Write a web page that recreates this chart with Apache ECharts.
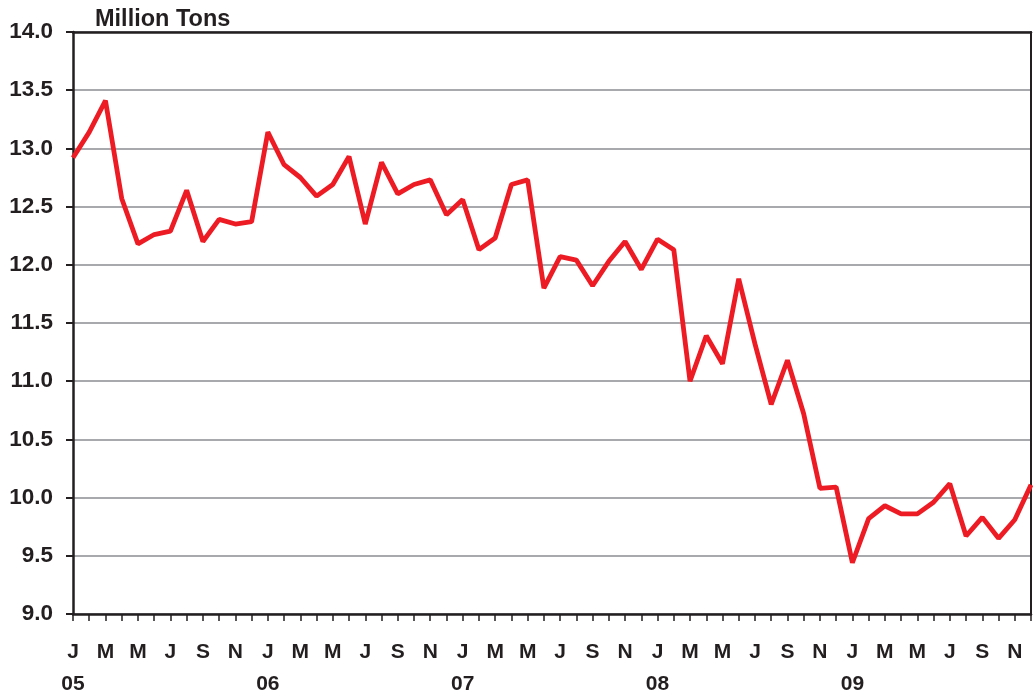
<!DOCTYPE html>
<html lang="en">
<head>
    <meta charset="UTF-8">
    <title>Million Tons</title>
    <style>
        body { margin: 0; background: #fff; }
        #main { width: 1033px; height: 694px; }
    </style>
</head>
<body>
    <div id="main"></div>
    <script src="https://cdn.jsdelivr.net/npm/echarts@6/dist/echarts.min.js"></script>
    <script>
        // monthly data Jan 2005 - Dec 2009
        var monthLetters = ['J', 'F', 'M', 'A', 'M', 'J', 'J', 'A', 'S', 'O', 'N', 'D'];
        var years = ['05', '06', '07', '08', '09'];
        var values = [
            12.92, 13.14, 13.41, 12.57, 12.18, 12.26, 12.29, 12.64, 12.20, 12.39, 12.35, 12.37,
            13.14, 12.86, 12.75, 12.59, 12.69, 12.93, 12.35, 12.88, 12.61, 12.69, 12.73, 12.43,
            12.56, 12.13, 12.23, 12.69, 12.73, 11.80, 12.07, 12.04, 11.82, 12.03, 12.20, 11.96,
            12.22, 12.13, 11.00, 11.39, 11.15, 11.88, 11.32, 10.80, 11.18, 10.72, 10.08, 10.09,
            9.44, 9.82, 9.93, 9.86, 9.86, 9.96, 10.12, 9.67, 9.83, 9.65, 9.81, 10.11
        ];
        var yTicks = { min: 9, max: 14, interval: 0.5 };

        var categories = [];
        years.forEach(function (y) {
            monthLetters.forEach(function (m) {
                categories.push(m + '|' + y);
            });
        });

        var txt = '#231f20';
        var font = 'Liberation Sans';

        var myChart = echarts.init(document.getElementById('main'));
        var option = {
            animation: false,
            title: {
                text: 'Million Tons',
                left: 90,
                top: 3,
                textStyle: { fontFamily: font, fontWeight: 'bold', fontSize: 23.5, color: txt }
            },
            grid: { left: 73, right: 2, top: 32, bottom: 80, outerBoundsMode: 'none' },
            xAxis: [{
                type: 'category',
                data: categories,
                boundaryGap: false,
                axisLine: { lineStyle: { color: txt, width: 2.5 } },
                axisTick: { show: true, interval: 0, length: 7, lineStyle: { color: txt, width: 1.5 } },
                axisLabel: {
                    interval: 1,
                    margin: 22,
                    fontFamily: font,
                    fontWeight: 'bold',
                    fontSize: 21,
                    lineHeight: 32,
                    color: txt,
                    formatter: function (v, i) {
                        var parts = v.split('|');
                        return i % 12 === 0 ? parts[0] + '\n' + parts[1] : parts[0];
                    }
                }
            }, {
                type: 'category',
                position: 'top',
                data: categories,
                boundaryGap: false,
                axisLine: { lineStyle: { color: txt, width: 2.5 } },
                axisTick: { show: false },
                axisLabel: { show: false }
            }],
            yAxis: [{
                type: 'value',
                min: yTicks.min,
                max: yTicks.max,
                interval: yTicks.interval,
                axisLine: { show: true, lineStyle: { color: txt, width: 2.5 } },
                axisTick: { show: true, length: 7, lineStyle: { color: txt, width: 2 } },
                axisLabel: {
                    margin: 20,
                    fontFamily: font,
                    fontWeight: 'bold',
                    fontSize: 22.5,
                    color: txt,
                    formatter: function (v) { return v.toFixed(1); }
                },
                splitLine: { show: true, lineStyle: { color: '#a7a9ac', width: 2 } }
            }, {
                type: 'value',
                position: 'right',
                min: yTicks.min,
                max: yTicks.max,
                interval: yTicks.interval,
                axisLine: { show: true, lineStyle: { color: txt, width: 2 } },
                axisTick: { show: false },
                axisLabel: { show: false },
                splitLine: { show: false }
            }],
            series: [{
                type: 'line',
                data: values,
                symbol: 'none',
                lineStyle: { color: '#ed1c24', width: 4.8 },
                z: 1
            }]
        };
        myChart.setOption(option);
    </script>
</body>
</html>
